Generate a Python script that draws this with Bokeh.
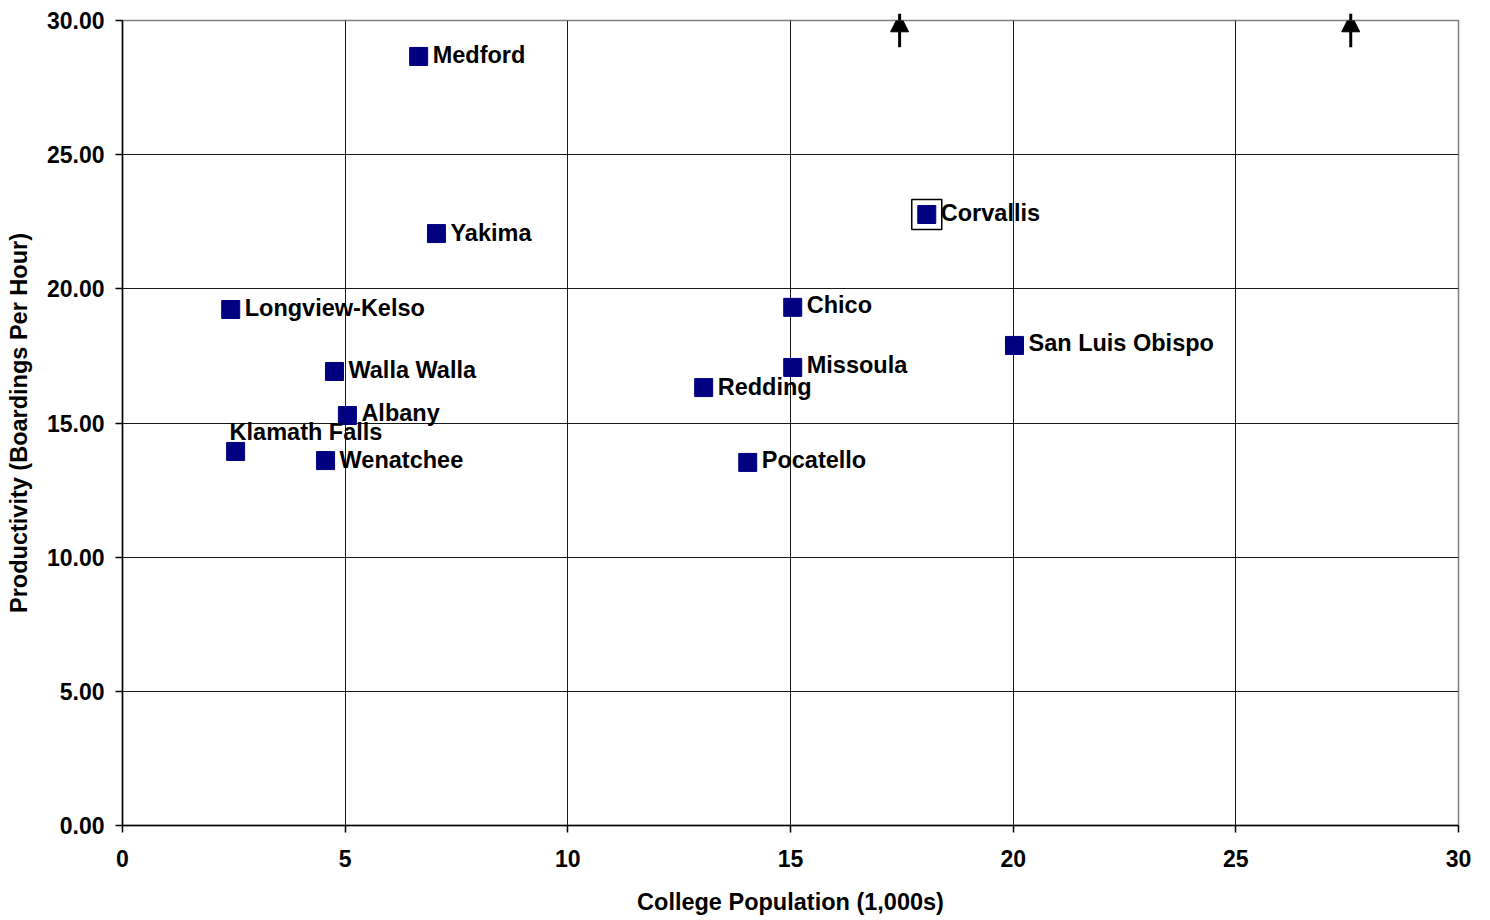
from bokeh.plotting import figure
from bokeh.models import ColumnDataSource, LabelSet, Arrow, NormalHead, FixedTicker, Range1d, NumeralTickFormatter
from bokeh.core.properties import value
from bokeh.embed import file_html
from bokeh.resources import INLINE

# ---- data ----
cities = ["Medford", "Yakima", "Longview-Kelso", "Walla Walla", "Albany", "Klamath Falls",
          "Wenatchee", "Chico", "Missoula", "Redding", "Pocatello", "Corvallis", "San Luis Obispo"]
college_pop = [6.65, 7.05, 2.43, 4.76, 5.05, 2.54, 4.56, 15.05, 15.05, 13.05, 14.04, 18.06, 20.03]
productivity = [28.66, 22.06, 19.23, 16.92, 15.28, 13.94, 13.60, 19.31, 17.07, 16.32, 13.53, 22.77, 17.89]
highlight_x = [18.06]
highlight_y = [22.77]
arrow_x = [17.45, 27.58]
x_ticks = [0, 5, 10, 15, 20, 25, 30]
y_ticks = [0, 5, 10, 15, 20, 25, 30]

# label offsets (pixels) - styling only
lab_dx = [14, 14, 14, 14, 14, -6, 14, 14, 14, 14, 14, 14, 14]
lab_dy = [1, 1, 1, 1, 2, 19, 1, 2, 2, 1, 2, 2, 2]

FONT = "Liberation Sans"

p = figure(width=1490, height=920, output_backend="svg", toolbar_location=None,
           x_range=Range1d(0, 30), y_range=Range1d(0, 30),
           min_border_left=122, min_border_right=32, min_border_top=20, min_border_bottom=95)
p.background_fill_color = "white"
p.border_fill_color = "white"
p.outline_line_color = "#808080"
p.outline_line_width = 1.5

src = ColumnDataSource(dict(x=college_pop, y=productivity, name=cities, dx=lab_dx, dy=lab_dy))

p.scatter(highlight_x, highlight_y, marker="square", size=30, fill_color=None,
          line_color="black", line_width=1.5)
p.scatter("x", "y", source=src, marker="square", size=18, fill_color="#000080",
          line_color="#000080")

labels = LabelSet(x="x", y="y", text="name", source=src, x_offset="dx", y_offset="dy",
                  text_font=value(FONT), text_font_style="bold", text_font_size="23.5px",
                  text_baseline="middle", text_align="left", text_color="black")
p.add_layout(labels)

for ax in arrow_x:
    p.add_layout(Arrow(end=NormalHead(size=18, fill_color="black", line_color="black"),
                       x_start=ax, y_start=29.0, x_end=ax, y_end=30.25,
                       line_color="black", line_width=3))

for g in (p.xgrid, p.ygrid):
    g.grid_line_color = "black"
    g.grid_line_width = 1
    g.grid_line_alpha = 0.9

p.xaxis.ticker = FixedTicker(ticks=x_ticks)
p.yaxis.ticker = FixedTicker(ticks=y_ticks)
p.yaxis.formatter = NumeralTickFormatter(format="0.00")

for axis in (p.xaxis, p.yaxis):
    axis.axis_line_color = "black"
    axis.axis_line_width = 1.5
    axis.major_tick_line_color = "black"
    axis.major_tick_line_width = 1.5
    axis.major_tick_out = 7
    axis.major_tick_in = 0
    axis.minor_tick_line_color = None
    axis.major_label_text_font = FONT
    axis.major_label_text_font_style = "bold"
    axis.major_label_text_font_size = "23px"
    axis.major_label_text_color = "black"
    axis.axis_label_text_font = FONT
    axis.axis_label_text_font_style = "bold"
    axis.axis_label_text_font_size = "23.5px"
    axis.axis_label_text_color = "black"

p.xaxis.axis_label = "College Population (1,000s)"
p.yaxis.axis_label = "Productivity (Boardings Per Hour)"
p.xaxis.major_label_standoff = 17
p.yaxis.major_label_standoff = 11
p.xaxis.axis_label_standoff = 19
p.yaxis.axis_label_standoff = 12

open("out.html", "w").write(file_html(p, INLINE))
